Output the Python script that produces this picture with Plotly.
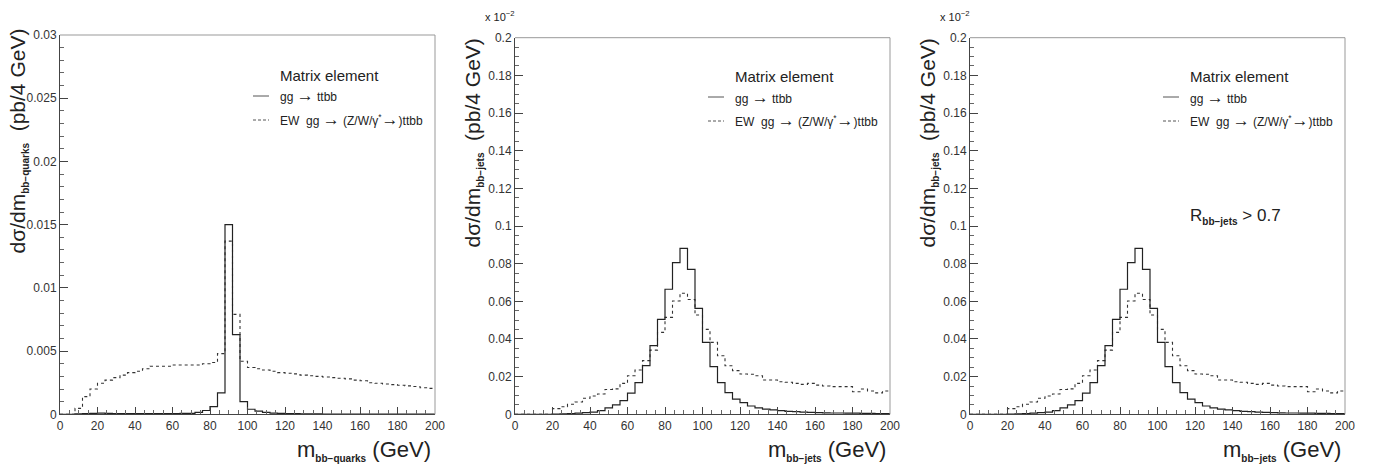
import plotly.graph_objects as go

# ---------------- data ----------------
bin_edges = list(range(0, 204, 4))  # 4 GeV bins, 0..200

# panel 1 : m_bb (quarks)
quarks_qcd = [0, 0, 0.00003, 0.00005, 0.00008, 0.0001, 0.00008, 0.00006, 0.00006, 0.00005,
              0.00005, 0.00005, 0.00006, 0.00006, 0.00005, 0.00006, 0.00007, 0.00008, 0.00015, 0.0003,
              0.0006, 0.0017, 0.0150, 0.0063, 0.0010, 0.0004, 0.00025, 0.00015, 0.0001, 0.00008,
              0.00006, 0.00005, 0.00004, 0.00003, 0.00003, 0.00002, 0.00002, 0.00002, 0.00002, 0.00002,
              0.00002, 0.00001, 0.00001, 0.00001, 0.00001, 0.00001, 0.00001, 0.00001, 0.00001, 0.00001]
quarks_ew = [0, 0, 0.00047, 0.0014, 0.0020, 0.00245, 0.0027, 0.0029, 0.0031, 0.0033,
             0.0034, 0.0036, 0.0038, 0.0038, 0.0038, 0.0039, 0.0039, 0.0039, 0.0039, 0.0040,
             0.0041, 0.0048, 0.0137, 0.0079, 0.0042, 0.0037, 0.0036, 0.0035, 0.0034, 0.0033,
             0.00325, 0.0032, 0.0031, 0.00305, 0.0030, 0.00295, 0.0029, 0.00285, 0.0028, 0.0027,
             0.00265, 0.0025, 0.00245, 0.0024, 0.00235, 0.0023, 0.00225, 0.0022, 0.0021, 0.00205]

# panels 2 and 3 : m_bb (jets), values in units of 1e-2
jets_qcd = [0, 0, 0, 0, 0, 0.0001, 0.0002, 0.0004, 0.0006, 0.0009,
            0.0012, 0.0020, 0.0034, 0.0050, 0.0073, 0.0112, 0.0168, 0.0258, 0.0365, 0.0504,
            0.0664, 0.0805, 0.0881, 0.0770, 0.0563, 0.0382, 0.0253, 0.0168, 0.0115, 0.0081,
            0.0062, 0.0044, 0.0034, 0.0028, 0.0023, 0.0019, 0.0016, 0.0014, 0.0012, 0.0010,
            0.0009, 0.0008, 0.0007, 0.0007, 0.0006, 0.0006, 0.0005, 0.0005, 0.0004, 0.0004]
jets_ew = [0, 0, 0, 0, 0, 0.0030, 0.0040, 0.0053, 0.0065, 0.0085,
           0.0097, 0.0108, 0.0132, 0.0135, 0.0164, 0.0205, 0.0235, 0.0285, 0.0341, 0.0435,
           0.0515, 0.0602, 0.0643, 0.0610, 0.0527, 0.0451, 0.0382, 0.0311, 0.0258, 0.0232,
           0.0214, 0.0213, 0.0205, 0.0182, 0.0182, 0.0173, 0.0170, 0.0164, 0.0159, 0.0164,
           0.0155, 0.0150, 0.0147, 0.0147, 0.0147, 0.0120, 0.0134, 0.0124, 0.0114, 0.0124]
jets_cut_qcd = list(jets_qcd)
jets_cut_ew = list(jets_ew)

x_ticks = [0, 20, 40, 60, 80, 100, 120, 140, 160, 180, 200]
y1_ticks = [0, 0.005, 0.01, 0.015, 0.02, 0.025, 0.03]
y1_text = ["0", "0.005", "0.01", "0.015", "0.02", "0.025", "0.03"]
y2_ticks = [0, 0.02, 0.04, 0.06, 0.08, 0.1, 0.12, 0.14, 0.16, 0.18, 0.2]
y2_text = ["0", "0.02", "0.04", "0.06", "0.08", "0.1", "0.12", "0.14", "0.16", "0.18", "0.2"]

ARROW = "<span style='font-size:17px'>→</span>"
legend_title = "Matrix element"
label_qcd = "gg " + ARROW + " ttbb"
label_ew = "EW  gg " + ARROW + " (Z/W/γ<sup>*</sup>" + ARROW + ")ttbb"

# ---------------- figure ----------------
W, H = 1383, 468
FONT = "Liberation Sans, Arial, sans-serif"
INK = "#222222"


def px(x):
    return x / W


def py(y):
    return 1 - y / H


fig = go.Figure()

panels = [
    dict(qcd=quarks_qcd, ew=quarks_ew, xa="x", ya="y"),
    dict(qcd=jets_qcd, ew=jets_ew, xa="x2", ya="y2"),
    dict(qcd=jets_cut_qcd, ew=jets_cut_ew, xa="x3", ya="y3"),
]


def step(vals):
    return vals + [vals[-1]]


for p in panels:
    fig.add_trace(go.Scatter(x=bin_edges, y=step(p["ew"]), mode="lines", line_shape="hv",
                             line=dict(color="#333333", width=1.1, dash="3px,3px"),
                             xaxis=p["xa"], yaxis=p["ya"], showlegend=False, hoverinfo="skip"))
    fig.add_trace(go.Scatter(x=bin_edges, y=step(p["qcd"]), mode="lines", line_shape="hv",
                             line=dict(color="#222222", width=1.2),
                             xaxis=p["xa"], yaxis=p["ya"], showlegend=False, hoverinfo="skip"))

x_dom = [[60, 435], [515, 890], [970, 1345]]
y_top = [35, 37.7, 37.7]
y_bot = 414.3

common_x = dict(range=[0, 200], tickmode="array", tickvals=x_ticks, ticks="inside", ticklen=7,
                tickcolor="#444", showline=True, linecolor="#444", linewidth=1, showgrid=False,
                zeroline=False, tickfont=dict(size=12, color="#333", family=FONT),
                minor=dict(ticks="inside", ticklen=4, tickmode="linear", tick0=0, dtick=5,
                           tickcolor="#666", showgrid=False),
                automargin=False, fixedrange=True)

layout = dict(width=W, height=H, autosize=False, margin=dict(l=0, r=0, t=0, b=0, pad=0),
              paper_bgcolor="white", plot_bgcolor="white", showlegend=False,
              font=dict(family=FONT, color=INK))

for i in range(3):
    xk = "xaxis" if i == 0 else f"xaxis{i+1}"
    yk = "yaxis" if i == 0 else f"yaxis{i+1}"
    ya = "y" if i == 0 else f"y{i+1}"
    xa = "x" if i == 0 else f"x{i+1}"
    layout[xk] = dict(common_x, domain=[px(x_dom[i][0]), px(x_dom[i][1])], anchor=ya)
    if i == 0:
        yr, tv, tt, mdt = [0, 0.03], y1_ticks, y1_text, 0.001
    else:
        yr, tv, tt, mdt = [0, 0.2], y2_ticks, y2_text, 0.005
    layout[yk] = dict(range=yr, domain=[py(y_bot), py(y_top[i])], anchor=xa,
                      tickmode="array", tickvals=tv, ticktext=tt, ticks="inside", ticklen=8,
                      tickcolor="#444", showline=True, linecolor="#444", linewidth=1,
                      showgrid=False, zeroline=False,
                      tickfont=dict(size=12, color="#333", family=FONT),
                      minor=dict(ticks="inside", ticklen=4, tickmode="linear", tick0=0, dtick=mdt,
                                 tickcolor="#666", showgrid=False),
                      automargin=False, fixedrange=True)

fig.update_layout(**layout)

shapes = []
annotations = []
sub = "<span style='font-size:10px'><b>{}</b></span>"

for i in range(3):
    x0, x1 = x_dom[i]
    # light frame on top and right
    shapes.append(dict(type="line", xref="paper", yref="paper", x0=px(x0), x1=px(x1),
                       y0=py(y_top[i]), y1=py(y_top[i]), line=dict(color="#999", width=1)))
    shapes.append(dict(type="line", xref="paper", yref="paper", x0=px(x1), x1=px(x1),
                       y0=py(y_top[i]), y1=py(y_bot), line=dict(color="#999", width=1)))

    off = [0, 455, 910][i]
    subname = "bb−quarks" if i == 0 else "bb−jets"
    ytitle_top = 27 if i == 0 else 37
    # y title
    annotations.append(dict(xref="paper", yref="paper", x=px(off + 18), y=py(ytitle_top),
                            xanchor="center", yanchor="top", textangle=-90, showarrow=False,
                            text="dσ/dm<sub>" + sub.format(subname) + "</sub>  (pb/4 GeV)",
                            font=dict(size=21, color=INK, family=FONT)))
    # x title
    annotations.append(dict(xref="paper", yref="paper", x=px(x1 - 2), y=py(450),
                            xanchor="right", yanchor="middle", showarrow=False,
                            text="m<sub>" + sub.format(subname) + "</sub> (GeV)",
                            font=dict(size=22, color=INK, family=FONT)))
    # legend
    lx = off + 278
    ly0 = 75 if i == 0 else 77
    ly1 = 96 if i == 0 else 97
    ly2 = 120 if i == 0 else 121
    annotations.append(dict(xref="paper", yref="paper", x=px(lx), y=py(ly0), xanchor="left",
                            yanchor="middle", showarrow=False, text=legend_title,
                            font=dict(size=15, color=INK, family=FONT)))
    annotations.append(dict(xref="paper", yref="paper", x=px(lx), y=py(ly1), xanchor="left",
                            yanchor="middle", showarrow=False, text=label_qcd,
                            font=dict(size=12, color=INK, family=FONT)))
    annotations.append(dict(xref="paper", yref="paper", x=px(lx), y=py(ly2), xanchor="left",
                            yanchor="middle", showarrow=False, text=label_ew,
                            font=dict(size=12, color=INK, family=FONT)))
    shapes.append(dict(type="line", xref="paper", yref="paper", x0=px(off + 253), x1=px(off + 269),
                       y0=py(ly1), y1=py(ly1), line=dict(color="#555", width=1)))
    shapes.append(dict(type="line", xref="paper", yref="paper", x0=px(off + 253), x1=px(off + 269),
                       y0=py(ly2), y1=py(ly2), line=dict(color="#555", width=1, dash="3px,2px")))
    if i > 0:
        annotations.append(dict(xref="paper", yref="paper", x=px(off + 28), y=py(16),
                                xanchor="left", yanchor="middle", showarrow=False,
                                text="x 10<sup>−2</sup>",
                                font=dict(size=11, color=INK, family=FONT)))

annotations.append(dict(xref="paper", yref="paper", x=px(1188), y=py(216), xanchor="left",
                        yanchor="middle", showarrow=False,
                        text="R<sub>" + sub.format("bb−jets") + "</sub> > 0.7",
                        font=dict(size=17, color=INK, family=FONT)))

fig.update_layout(shapes=shapes, annotations=annotations)
fig.write_html("out.html", config={"responsive": False, "displayModeBar": False})

# remove the browser's default page margin so the figure sits at (0, 0)
with open("out.html", "r", encoding="utf-8") as f:
    html = f.read()
html = html.replace("<head>", "<head><style>html,body{margin:0;padding:0;overflow:hidden;}</style>", 1)
with open("out.html", "w", encoding="utf-8") as f:
    f.write(html)
